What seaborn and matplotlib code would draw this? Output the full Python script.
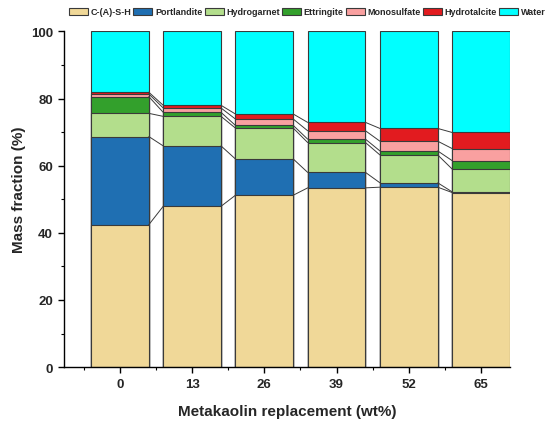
import matplotlib
matplotlib.use("Agg")
import matplotlib.pyplot as plt
from matplotlib.patches import Patch
from matplotlib.ticker import MultipleLocator, FixedLocator
import numpy as np
import pandas as pd
import seaborn as sns

# Phase assemblage (mass %) for each metakaolin replacement level
replacement = ["0", "13", "26", "39", "52", "65"]
phases = ["C-(A)-S-H", "Portlandite", "Hydrogarnet", "Ettringite",
          "Monosulfate", "Hydrotalcite", "Water"]
csh          = [42.4, 47.9, 51.2, 53.4, 53.6, 52.0]
portlandite  = [26.3, 18.0, 10.8,  4.6,  1.3,  0.2]
hydrogarnet  = [ 6.9,  8.8,  9.2,  8.9,  8.3,  6.8]
ettringite   = [ 5.0,  1.2,  0.8,  1.0,  1.2,  2.5]
monosulfate  = [ 0.8,  1.3,  1.9,  2.5,  2.9,  3.6]
hydrotalcite = [ 0.5,  0.8,  1.5,  2.5,  3.8,  4.8]
water        = [18.1, 22.0, 24.6, 27.1, 28.9, 30.1]

colors = ["#F0D898", "#1F6FB2", "#B3DE8C", "#33A02C",
          "#F9A0A0", "#E21B1F", "#00FFFF"]

sns.set_theme(style="ticks")
plt.rcParams["font.family"] = ["Liberation Sans", "DejaVu Sans"]
plt.rcParams["font.weight"] = "bold"

layers = np.array([csh, portlandite, hydrogarnet, ettringite,
                   monosulfate, hydrotalcite, water])
tops = np.cumsum(layers, axis=0)

fig = plt.figure(figsize=(5.46, 4.27), dpi=100)
ax = fig.add_axes([0.117, 0.138, 0.817, 0.786])

# Stack drawn from the top layer down; each bar spans 0..cumulative top
for k in range(len(phases) - 1, -1, -1):
    df = pd.DataFrame({"rep": replacement, "top": tops[k]})
    sns.barplot(data=df, x="rep", y="top", order=replacement, color=colors[k],
                saturation=1, width=0.8, edgecolor="#3a3a3a", linewidth=0.8,
                ax=ax, errorbar=None)

# Connector lines between neighbouring bars at each phase boundary
for k in range(len(phases) - 1):
    for i in range(len(replacement) - 1):
        ax.plot([i + 0.4, i + 0.6], [tops[k][i], tops[k][i + 1]],
                color="#3a3a3a", lw=0.7, zorder=3)

ax.set_xlim(-0.775, 5.4)
ax.set_ylim(0, 100)
ax.yaxis.set_major_locator(MultipleLocator(20))
ax.yaxis.set_minor_locator(MultipleLocator(10))
ax.xaxis.set_minor_locator(FixedLocator(np.arange(-0.5, 5.6, 1.0)))
ax.tick_params(axis="both", which="major", length=4, width=1, direction="out",
               labelsize=9.5, color="black", pad=4)
ax.tick_params(axis="both", which="minor", length=2.5, width=0.8,
               direction="out", color="black")
for lab in ax.get_xticklabels() + ax.get_yticklabels():
    lab.set_fontweight("bold")
sns.despine(ax=ax)
for s in ["left", "bottom"]:
    ax.spines[s].set_color("black")
    ax.spines[s].set_linewidth(1.0)

ax.set_xlabel("Metakaolin replacement (wt%)", fontsize=11, fontweight="bold",
              labelpad=10)
ax.set_ylabel("Mass fraction (%)", fontsize=11, fontweight="bold", labelpad=3)
ax.yaxis.label.set_y(0.53)

handles = [Patch(facecolor=c, edgecolor="#3a3a3a", linewidth=0.8)
           for c in colors]
fig.legend(handles, phases, loc="center left", bbox_to_anchor=(0.126, 0.970),
           ncol=7, frameon=False, prop={"size": 6.5, "weight": "bold"},
           handlelength=2.1, handleheight=0.85, handletextpad=0.3,
           columnspacing=0.25, borderaxespad=0, borderpad=0)

fig.savefig("out.png", dpi=100)
